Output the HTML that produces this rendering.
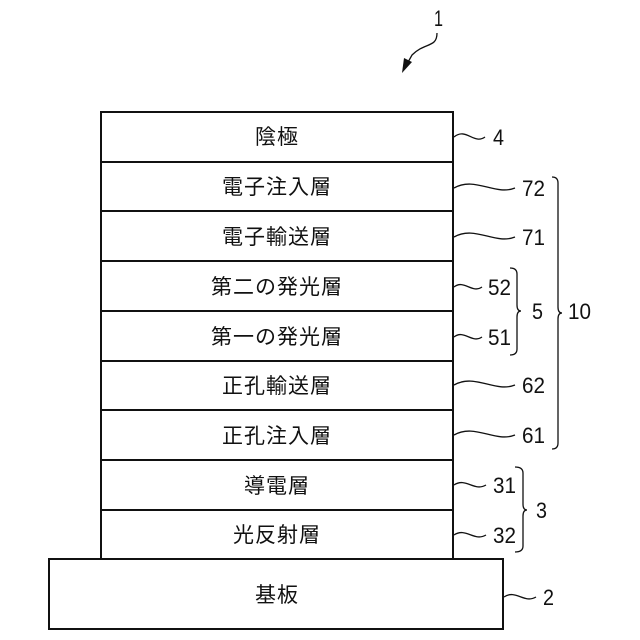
<!DOCTYPE html>
<html><head><meta charset="utf-8"><style>
html,body{margin:0;padding:0;background:#fff;}
svg{display:block}
.t{font-family:"Liberation Sans","Noto Sans CJK JP",sans-serif;font-size:21px;fill:#111;text-anchor:middle;letter-spacing:1px}
.n{font-family:"Liberation Sans Narrow","Liberation Sans",sans-serif;font-size:22px;fill:#111}
</style></head><body>
<svg width="640" height="640" viewBox="0 0 640 640" xmlns="http://www.w3.org/2000/svg">
<g fill="none" stroke="#111" stroke-width="2">
<rect x="101" y="112" width="352" height="447"/>
<line x1="101" y1="162" x2="453" y2="162"/>
<line x1="101" y1="211" x2="453" y2="211"/>
<line x1="101" y1="261" x2="453" y2="261"/>
<line x1="101" y1="311" x2="453" y2="311"/>
<line x1="101" y1="361" x2="453" y2="361"/>
<line x1="101" y1="410" x2="453" y2="410"/>
<line x1="101" y1="460" x2="453" y2="460"/>
<line x1="101" y1="510" x2="453" y2="510"/>
<rect x="49" y="559" width="454" height="70"/>
</g>
<g class="t">
<text x="277" y="144">陰極</text>
<text x="277" y="194">電子注入層</text>
<text x="277" y="244">電子輸送層</text>
<text x="277" y="294">第二の発光層</text>
<text x="277" y="344">第一の発光層</text>
<text x="277" y="393">正孔輸送層</text>
<text x="277" y="443">正孔注入層</text>
<text x="277" y="493">導電層</text>
<text x="277" y="542">光反射層</text>
<text x="277" y="602">基板</text>
</g>
<g fill="none" stroke="#111" stroke-width="1.3">
<path d="M454 137 C466 127,474 145,485 137"/>
<path d="M454 188 C475 176,495 196,515 188"/>
<path d="M454 237 C475 225,495 245,515 237"/>
<path d="M454 287 C464 279,472 294,482 287"/>
<path d="M454 337 C464 329,472 344,482 337"/>
<path d="M454 385 C475 373,495 393,515 385"/>
<path d="M454 435 C475 423,495 443,515 435"/>
<path d="M454 485 C466 477,474 492,486 485"/>
<path d="M454 535 C466 527,474 542,486 535"/>
<path d="M504 597 C516 589,524 604,536 597"/>
<path d="M552 177 Q558 177,558 183 L558 307 Q558 313,562 313 Q558 313,558 319 L558 443 Q558 449,552 449"/>
<path d="M510 268 Q517 268,517 274 L517 305 Q517 311,521 311 Q517 311,517 317 L517 349 Q517 355,510 355"/>
<path d="M515 467 Q523 467,523 473 L523 504 Q523 510,527 510 Q523 510,523 516 L523 546 Q523 552,515 552"/>
<path d="M437 33 C437 48,425 42,412 55 L407 64"/>
</g>
<path d="M402 73 L404 58 L412 62 Z" fill="#111"/>
<g class="n">
<text x="493" y="145" textLength="11" lengthAdjust="spacingAndGlyphs">4</text>
<text x="522" y="196" textLength="23" lengthAdjust="spacingAndGlyphs">72</text>
<text x="522" y="245" textLength="23" lengthAdjust="spacingAndGlyphs">71</text>
<text x="488" y="295" textLength="23" lengthAdjust="spacingAndGlyphs">52</text>
<text x="488" y="345" textLength="23" lengthAdjust="spacingAndGlyphs">51</text>
<text x="522" y="393" textLength="23" lengthAdjust="spacingAndGlyphs">62</text>
<text x="522" y="443" textLength="23" lengthAdjust="spacingAndGlyphs">61</text>
<text x="493" y="493" textLength="23" lengthAdjust="spacingAndGlyphs">31</text>
<text x="493" y="543" textLength="23" lengthAdjust="spacingAndGlyphs">32</text>
<text x="532" y="319" textLength="11" lengthAdjust="spacingAndGlyphs">5</text>
<text x="568" y="319" textLength="23" lengthAdjust="spacingAndGlyphs">10</text>
<text x="536" y="518" textLength="11" lengthAdjust="spacingAndGlyphs">3</text>
<text x="543" y="605" textLength="11" lengthAdjust="spacingAndGlyphs">2</text>
<text x="434" y="26" textLength="9" lengthAdjust="spacingAndGlyphs">1</text>
</g>
</svg>
</body></html>
